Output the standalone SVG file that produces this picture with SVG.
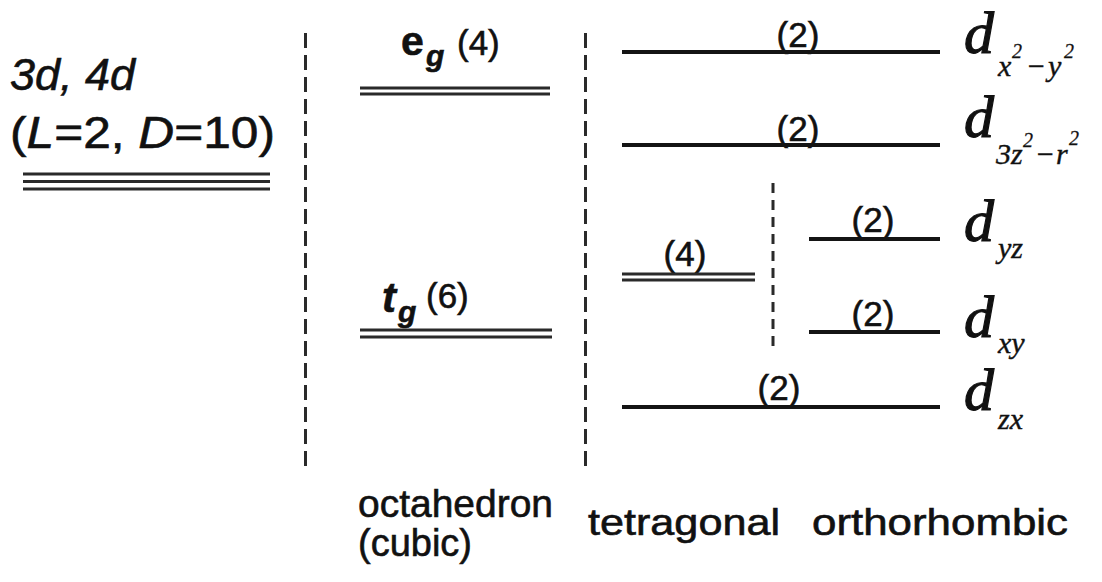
<svg xmlns="http://www.w3.org/2000/svg" width="1102" height="582" viewBox="0 0 1102 582">
<style>
.sans{font-family:"Liberation Sans",Arial,sans-serif;fill:#111;stroke:#111;stroke-width:0.6}
.serif{font-family:"Liberation Serif","Times New Roman",serif;font-style:italic;fill:#111}
.lvl{stroke:#141414;stroke-width:4;fill:none}
.dbl{stroke:#2a2a2a;stroke-width:3;fill:none}
.sep{stroke:#2a2a2a;stroke-width:3;stroke-dasharray:15 7;fill:none}
.sep2{stroke:#2a2a2a;stroke-width:3;stroke-dasharray:10 7;fill:none}
.deg{font-size:35px;text-anchor:middle}
.dl{font-size:60px;stroke:#111;stroke-width:1.2}
.sub{font-size:30px;stroke:#111;stroke-width:0.4}
.sup{font-size:20px;stroke:#111;stroke-width:0.3}
</style>
<rect width="1102" height="582" fill="#fff"/>
<g id="separators">
<line class="sep" x1="305.5" y1="33" x2="305.5" y2="466"/>
<line class="sep" x1="585.5" y1="33" x2="585.5" y2="466"/>
<line class="sep2" x1="773" y1="183" x2="773" y2="352"/>
</g>
<g id="free-ion">
<text class="sans" x="10" y="90" font-size="44" font-style="italic" textLength="125" lengthAdjust="spacingAndGlyphs">3d, 4d</text>
<text class="sans" x="10" y="148" font-size="44" textLength="265" lengthAdjust="spacingAndGlyphs">(<tspan font-style="italic">L</tspan>=2, <tspan font-style="italic">D</tspan>=10)</text>
<line class="dbl" x1="23" y1="174" x2="270" y2="174"/>
<line class="dbl" x1="23" y1="181.5" x2="270" y2="181.5"/>
<line class="dbl" x1="23" y1="189" x2="270" y2="189"/>
</g>
<g id="eg">
<text class="sans" x="401" y="55" font-size="41" font-weight="bold">e</text>
<text class="sans" x="426" y="66" font-size="30" font-weight="bold" font-style="italic">g</text>
<text class="sans" x="457" y="55" font-size="35">(4)</text>
<line class="dbl" x1="360" y1="88" x2="550" y2="88"/>
<line class="dbl" x1="360" y1="94" x2="550" y2="94"/>
</g>
<g id="tg">
<text class="sans" x="382" y="312" font-size="42" font-weight="bold" font-style="italic">t</text>
<text class="sans" x="398" y="322" font-size="30" font-weight="bold" font-style="italic">g</text>
<text class="sans" x="426" y="308" font-size="35">(6)</text>
<line class="dbl" x1="360" y1="330" x2="552" y2="330"/>
<line class="dbl" x1="360" y1="337" x2="552" y2="337"/>
</g>
<g id="tetra4">
<text class="sans deg" x="685" y="266">(4)</text>
<line class="dbl" x1="622" y1="274" x2="755" y2="274"/>
<line class="dbl" x1="622" y1="280" x2="755" y2="280"/>
</g>
<g id="dx2y2">
<text class="sans deg" x="798" y="47">(2)</text>
<line class="lvl" x1="622" y1="52" x2="940" y2="52"/>
<text class="serif"><tspan class="dl" x="964" y="53">d</tspan><tspan class="sub" x="998" y="76">x</tspan><tspan class="sup" x="1012" y="58">2</tspan><tspan class="sub" x="1026" y="76">−</tspan><tspan class="sub" x="1048" y="76">y</tspan><tspan class="sup" x="1064" y="58">2</tspan></text>
</g>
<g id="d3z2r2">
<text class="sans deg" x="798" y="141">(2)</text>
<line class="lvl" x1="622" y1="145" x2="940" y2="145"/>
<text class="serif"><tspan class="dl" x="964" y="137">d</tspan><tspan class="sub" x="996" y="164">3z</tspan><tspan class="sup" x="1023" y="147">2</tspan><tspan class="sub" x="1035" y="164">−</tspan><tspan class="sub" x="1056" y="164">r</tspan><tspan class="sup" x="1069" y="145">2</tspan></text>
</g>
<g id="dyz">
<text class="sans deg" x="873" y="232">(2)</text>
<line class="lvl" x1="809" y1="239" x2="940" y2="239"/>
<text class="serif"><tspan class="dl" x="964" y="241">d</tspan><tspan class="sub" x="998" y="258">yz</tspan></text>
</g>
<g id="dxy">
<text class="sans deg" x="873" y="326">(2)</text>
<line class="lvl" x1="809" y1="332" x2="940" y2="332"/>
<text class="serif"><tspan class="dl" x="964" y="337">d</tspan><tspan class="sub" x="998" y="353">xy</tspan></text>
</g>
<g id="dzx">
<text class="sans deg" x="779" y="400">(2)</text>
<line class="lvl" x1="622" y1="407" x2="940" y2="407"/>
<text class="serif"><tspan class="dl" x="964" y="410">d</tspan><tspan class="sub" x="998" y="429">zx</tspan></text>
</g>
<g id="labels">
<text class="sans" x="358" y="517" font-size="38" textLength="195" lengthAdjust="spacingAndGlyphs">octahedron</text>
<text class="sans" x="358" y="556" font-size="38">(cubic)</text>
<text class="sans" x="588" y="535" font-size="37" textLength="192" lengthAdjust="spacingAndGlyphs">tetragonal</text>
<text class="sans" x="812" y="535" font-size="37" textLength="256" lengthAdjust="spacingAndGlyphs">orthorhombic</text>
</g>
</svg>
